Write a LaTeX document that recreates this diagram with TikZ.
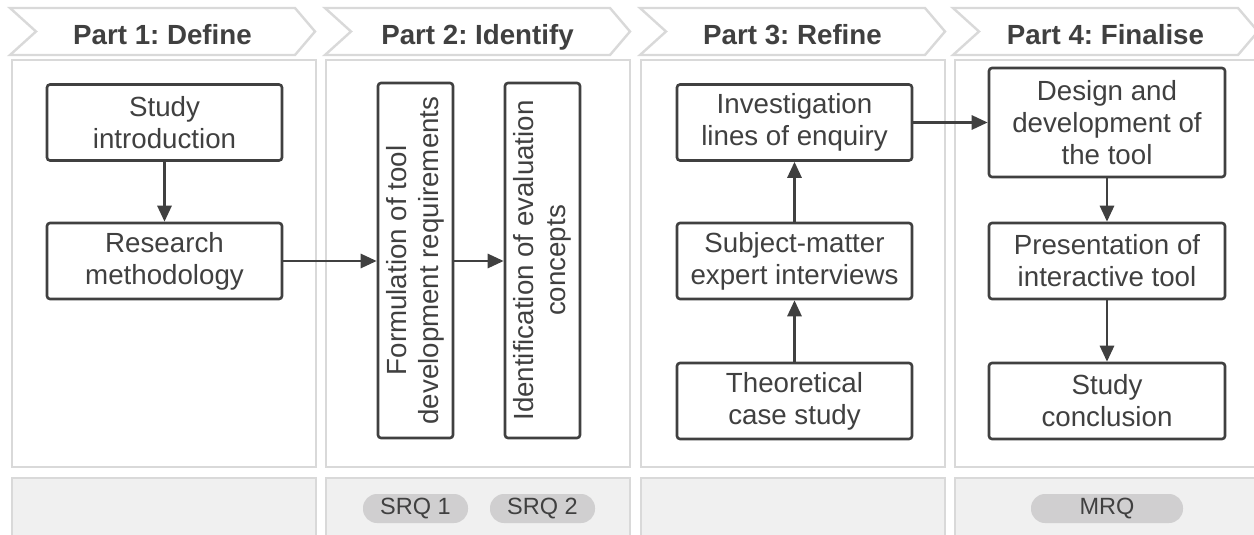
\documentclass[tikz,border=0pt]{standalone}
\usepackage{fontspec}
\setmainfont{Liberation Sans}
\usetikzlibrary{arrows.meta}
\definecolor{ink}{HTML}{404040}
\definecolor{rulegray}{HTML}{D9D9D9}
\definecolor{bandfill}{HTML}{F0F0F0}
\definecolor{pillfill}{HTML}{D0CFD0}
\frenchspacing

\begin{document}
\begin{tikzpicture}[x=1pt,y=-1pt,
  every node/.style={text=ink, font=\fontsize{27.7}{32}\selectfont},
  banner/.style={draw=rulegray, line width=2.4pt, fill=white, line join=miter},
  panel/.style={draw=rulegray, line width=2.4pt, fill=white},
  bandpanel/.style={draw=rulegray, line width=2.4pt, fill=bandfill},
  heading/.style={anchor=base, inner sep=0pt, font=\fontsize{27.7}{32}\selectfont\bfseries},
  stepbox/.style={draw=ink, line width=2.6pt, rounded corners=3pt, fill=white,
    minimum width=235pt, minimum height=76pt, align=center, inner sep=0pt},
  tallbox/.style={draw=ink, line width=2.6pt, rounded corners=3pt, fill=white,
    minimum width=75pt, minimum height=355pt, inner sep=0pt},
  sidetext/.style={rotate=90, align=center, inner sep=0pt},
  tag/.style={fill=pillfill, rounded corners=14pt, minimum height=29pt,
    inner sep=0pt, font=\fontsize{23.5}{26}\selectfont},
  flow/.style={draw=ink, line width=2.8pt,
    -{Triangle[length=16pt,width=14pt]}}
]
\clip (0,0) rectangle (1254,535);
\fill[white] (0,0) rectangle (1254,535);

% chevron banners and columns
\foreach \x in {10,325,640,953}{
  \draw[banner] (\x,8) -- (\x+285,8) -- (\x+305,31.5) -- (\x+285,55)
    -- (\x,55) -- (\x+26,31.5) -- cycle;
}
\foreach \x in {12,326,641,955}{
  \draw[panel] (\x,60) rectangle (\x+304,467);
  \draw[bandpanel] (\x,478) rectangle (\x+304,545);
}

\node[heading] (h1) at (162.5,45) {Part 1: Define};
\node[heading] (h2) at (477.5,45) {Part 2: Identify};
\node[heading] (h3) at (792.5,45) {Part 3: Refine};
\node[heading] (h4) at (1105.5,45) {Part 4: Finalise};

% Part 1
\node[stepbox] (intro) at (164.5,122.5) {Study\\introduction};
\node[stepbox] (method) at (164.5,261) {Research\\methodology};

% Part 2
\node[tallbox] (form) at (415.5,260.5) {};
\node[sidetext] (formtext) at (form.center) {Formulation of tool\\development requirements};
\node[tallbox] (ident) at (542.5,260.5) {};
\node[sidetext] (identtext) at (ident.center) {Identification of evaluation\\concepts};

% Part 3
\node[stepbox] (lines) at (794.5,122.5) {Investigation\\lines of enquiry};
\node[stepbox] (experts) at (794.5,261) {Subject-matter\\expert interviews};
\node[stepbox] (case) at (794.5,401) {Theoretical\\case study};

% Part 4
\node[stepbox, minimum width=236pt, minimum height=109pt] (design) at (1107,122.5)
  {Design and\\development of\\the tool};
\node[stepbox, minimum width=236pt] (present) at (1107,261) {Presentation of\\interactive tool};
\node[stepbox, minimum width=236pt] (concl) at (1107,401) {Study\\conclusion};

% research question tags
\node[tag, minimum width=105pt] (srq1) at (415.5,508.5) {SRQ 1};
\node[tag, minimum width=105pt] (srq2) at (542.5,508.5) {SRQ 2};
\node[tag, minimum width=152pt] (mrq) at (1107,508.5) {MRQ};

% connectors
\draw[flow] (intro) -- (method);
\draw[flow] (method.east) -- (method.east -| form.west);
\draw[flow] (form.east |- method.east) -- (method.east -| ident.west);
\draw[flow] (case) -- (experts);
\draw[flow] (experts) -- (lines);
\draw[flow] (lines.east) -- (lines.east -| design.west);
\draw[flow] (design) -- (present);
\draw[flow] (present) -- (concl);
\end{tikzpicture}
\end{document}
